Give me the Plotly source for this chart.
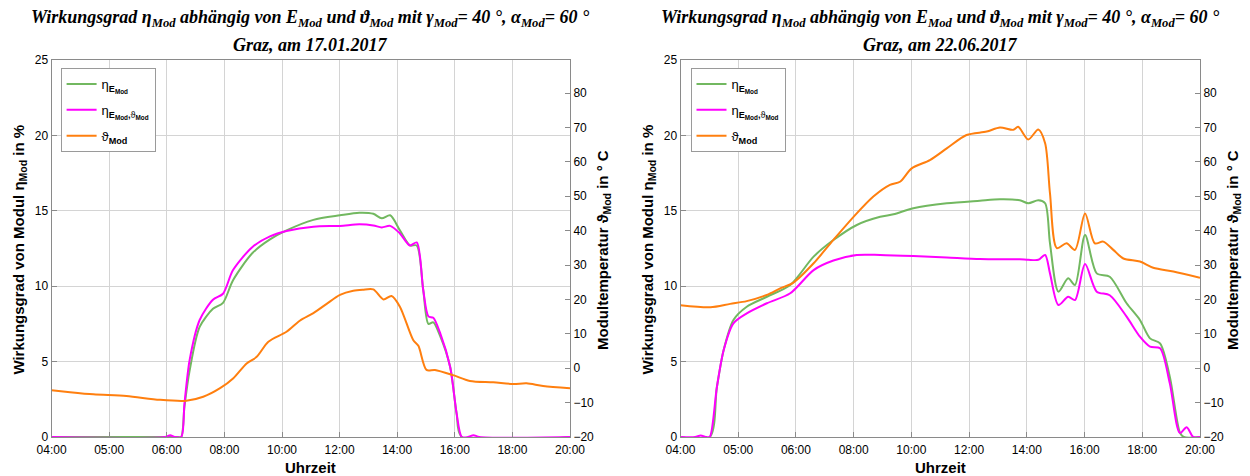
import plotly.graph_objects as go
import numpy as np

# ---------------- data (hours of day) ----------------
# 17.01.2017
t_jan_T = [4.0, 4.5, 5.29, 6.31, 7.34, 8.16, 8.68, 9.2, 9.61, 10.02, 10.33, 10.69, 11.25, 11.66, 12.08,
           12.49, 12.9, 13.31, 13.6, 13.93, 14.24, 14.49, 14.75, 15.16, 15.32, 15.57, 15.83, 16.39,
           16.91, 17.63, 18.25, 18.66, 19.17, 20.0]
T_jan = [-6.4, -6.9, -7.6, -8.1, -9.2, -9.45, -8.3, -5.8, -2.9, 1.4, 3.3, 7.7, 10.6, 13.8, 16.0,
         18.7, 21.3, 22.5, 22.8, 22.9, 20.0, 21.0, 17.9, 8.2, 6.5, -0.5, -0.5, -2.0,
         -3.7, -4.1, -4.6, -4.4, -5.2, -5.8]

t_jan_E = [4.0, 7.9, 8.0, 8.1, 8.26, 8.57, 8.98, 9.29, 9.6, 10.2, 10.74, 11.25, 12.08, 12.9, 13.5,
           13.93, 14.19, 14.45, 14.75, 15.06, 15.27, 15.47, 15.63, 15.78, 15.99, 16.3, 16.5, 16.66, 20.0]
eta_E_jan = [0, 0, 0, 2.0, 4.4, 7.3, 8.5, 8.9, 10.4, 12.2, 13.1, 13.7, 14.4, 14.7, 14.87,
             14.8, 14.5, 14.7, 13.7, 12.7, 12.7, 9.75, 7.5, 7.6, 6.7, 4.66, 1.57, 0, 0]

t_jan_M = [4.0, 7.5, 7.66, 7.8, 8.0, 8.1, 8.26, 8.57, 8.98, 9.29, 9.6, 10.2, 10.74, 11.25, 12.08,
           12.9, 13.5, 13.93, 14.19, 14.45, 14.75, 15.06, 15.27, 15.47, 15.63, 15.78, 15.99, 16.3,
           16.5, 16.66, 16.85, 17.02, 17.2, 20.0]
eta_M_jan = [0, 0, 0.12, 0, 0, 2.2, 5.1, 7.76, 9.1, 9.5, 11.07, 12.6, 13.3, 13.66, 13.95,
             14.0, 14.1, 14.03, 13.9, 14.0, 13.5, 12.7, 12.9, 9.75, 8.0, 7.9, 6.9, 4.66,
             1.57, 0, 0, 0.12, 0, 0]

# 22.06.2017
t_jun_T = [4.0, 4.92, 5.53, 6.04, 6.66, 7.07, 7.48, 8.1, 8.71, 9.33, 9.94, 10.45, 10.76, 11.12,
           11.68, 12.2, 12.81, 13.43, 13.84, 14.25, 14.4, 14.71, 15.02, 15.23, 15.38, 15.59,
           15.89, 16.15, 16.46, 16.76, 17.02, 17.33, 17.64, 18.15, 18.56, 19.18, 20.0]
T_jun = [18.3, 17.7, 18.7, 19.5, 21.3, 23.2, 24.9, 30.5, 37.3, 44.0, 49.9, 53.3, 54.2, 58.1,
         60.5, 63.9, 67.8, 68.8, 70.0, 69.3, 70.2, 66.5, 69.4, 65.4, 50.8, 34.9,
         36.3, 34.4, 45.0, 36.3, 36.8, 34.4, 31.9, 31.0, 29.2, 28.1, 26.3]

t_jun_E = [4.0, 4.9, 5.12, 5.33, 5.63, 6.04, 6.66, 7.38, 8.1, 8.71, 9.43, 10.15, 10.56, 11.17,
           12.2, 13.22, 13.84, 14.45, 14.71, 15.02, 15.23, 15.38, 15.64, 15.94, 16.15, 16.46,
           16.82, 17.22, 17.74, 18.15, 18.46, 18.77, 19.07, 19.38, 19.5, 20.0]
eta_E_jun = [0, 0, 3.3, 5.77, 7.76, 8.64, 9.3, 10.08, 11.96, 13.06, 14.06, 14.6, 14.77, 15.17,
             15.5, 15.67, 15.76, 15.7, 15.5, 15.7, 15.5, 12.84, 9.64, 10.52, 10.08, 13.4,
             10.85, 10.63, 8.87, 7.76, 6.54, 6.21, 4.0, 0.3, 0, 0]

t_jun_M = [4.0, 4.45, 4.62, 4.8, 4.9, 5.12, 5.33, 5.63, 6.04, 6.66, 7.38, 8.1, 8.71, 9.43, 10.15,
           11.17, 12.2, 13.22, 13.84, 14.45, 14.71, 15.02, 15.23, 15.38, 15.64, 15.94, 16.15,
           16.46, 16.82, 17.22, 17.74, 18.15, 18.46, 18.77, 19.07, 19.38, 19.59, 19.79, 20.0]
eta_M_jun = [0, 0, 0.1, 0, 0, 3.3, 5.77, 7.54, 8.2, 8.87, 9.53, 11.07, 11.7, 12.07, 12.07,
             12.0, 11.9, 11.8, 11.78, 11.78, 11.75, 11.75, 12.07, 10.85, 8.75, 9.3, 9.08,
             11.47, 9.64, 9.4, 7.98, 6.65, 5.99, 5.88, 3.56, 0.27, 0.65, 0, 0]

x_ticktext = ["04:00", "05:00", "06:00", "08:00", "10:00", "12:00", "14:00", "16:00", "18:00", "20:00"]
x_tickvals = list(np.linspace(4, 20, len(x_ticktext)))
left_ticks = [0, 5, 10, 15, 20, 25]
right_ticks = [-20, -10, 0, 10, 20, 30, 40, 50, 60, 70, 80]
dates = ["17.01.2017", "22.06.2017"]

names = ["η<sub><b>E<sub>Mod</sub></b></sub>",
         "η<sub><b>E<sub>Mod</sub>,</b>ϑ<sub><b>Mod</b></sub></sub>",
         "ϑ<sub><b>Mod</b></sub>"]

GREEN = "#72b860"
MAGENTA = "#ff00ff"
ORANGE = "#ff7f0f"

W, H = 1250, 476
TOP, BOT = 60, 437
panels = [(51.6, 570.0), (680.5, 1200.0)]
ydom = [1 - BOT / H, 1 - TOP / H]

fig = go.Figure()

datasets = [
    (t_jan_E, eta_E_jan, t_jan_M, eta_M_jan, t_jan_T, T_jan),
    (t_jun_E, eta_E_jun, t_jun_M, eta_M_jun, t_jun_T, T_jun),
]

tick_font = dict(family="Liberation Sans", size=12, color="black")
AXC = "#8a8a8a"
GRIDC = "#d4d4d4"

for i, (tE, yE, tM, yM, tT, yT) in enumerate(datasets):
    xa = "x" if i == 0 else "x2"
    yl = "y" if i == 0 else "y3"
    yr = "y2" if i == 0 else "y4"
    leg = "legend" if i == 0 else "legend2"
    fig.add_trace(go.Scatter(x=tE, y=yE, mode="lines", name=names[0], xaxis=xa, yaxis=yl,
                             line=dict(color=GREEN, width=2, shape="spline", smoothing=0.8),
                             legend=leg, legendgroup="g%d_0" % i))
    fig.add_trace(go.Scatter(x=tM, y=yM, mode="lines", name=names[1], xaxis=xa, yaxis=yl,
                             line=dict(color=MAGENTA, width=2, shape="spline", smoothing=0.8),
                             legend=leg, legendgroup="g%d_1" % i))
    fig.add_trace(go.Scatter(x=tT, y=yT, mode="lines", name=names[2], xaxis=xa, yaxis=yr,
                             line=dict(color=ORANGE, width=2, shape="spline", smoothing=0.8),
                             legend=leg, legendgroup="g%d_2" % i))

def xaxis_cfg(dom, anchor):
    return dict(domain=dom, anchor=anchor, range=[4, 20], tickvals=x_tickvals, ticktext=x_ticktext,
                showgrid=True, gridcolor=GRIDC, gridwidth=1, showline=True, linecolor=AXC,
                mirror=True, ticks="inside", ticklen=5, tickcolor=AXC, ticklabelstandoff=2,
                tickfont=tick_font, zeroline=False, automargin=False, fixedrange=True)

def yleft_cfg(anchor):
    return dict(domain=ydom, anchor=anchor, range=[0, 25], tickvals=left_ticks,
                showgrid=True, gridcolor=GRIDC, gridwidth=1, showline=True, linecolor=AXC,
                ticks="inside", ticklen=5, tickcolor=AXC, tickfont=tick_font, zeroline=False,
                automargin=False)

def yright_cfg(anchor, over):
    return dict(anchor=anchor, overlaying=over, side="right", range=[-20, 89.6], tickvals=right_ticks,
                showgrid=False, showline=True, linecolor=AXC, ticks="inside", ticklen=5,
                tickcolor=AXC, tickfont=tick_font, zeroline=False, automargin=False)

leg_font = dict(family="Liberation Sans", size=13, color="black")
fig.update_layout(
    width=W, height=H, margin=dict(l=0, r=0, t=0, b=0),
    paper_bgcolor="white", plot_bgcolor="white",
    xaxis=xaxis_cfg([panels[0][0] / W, panels[0][1] / W], "y"),
    yaxis=yleft_cfg("x"),
    yaxis2=yright_cfg("x", "y"),
    xaxis2=xaxis_cfg([panels[1][0] / W, panels[1][1] / W], "y3"),
    yaxis3=yleft_cfg("x2"),
    yaxis4=yright_cfg("x2", "y3"),
    legend=dict(x=(panels[0][0] + 9) / W, y=1 - 68 / H, xanchor="left", yanchor="top",
                bgcolor="white", bordercolor="#9a9a9a", borderwidth=1, tracegroupgap=6,
                font=leg_font),
    legend2=dict(x=(panels[1][0] + 10) / W, y=1 - 68 / H, xanchor="left", yanchor="top",
                 bgcolor="white", bordercolor="#9a9a9a", borderwidth=1, tracegroupgap=6,
                 font=leg_font),
    showlegend=True,
)

title_font = dict(family="Liberation Serif", size=18, color="black")
lab_font = dict(family="Liberation Sans", size=15, color="black")
for i, (x0, x1) in enumerate(panels):
    cx = (x0 + x1) / 2 / W
    fig.add_annotation(x=cx, y=1 - 19 / H, xref="paper", yref="paper", showarrow=False,
                       xanchor="center", yanchor="middle", font=title_font,
                       text="<b><i>Wirkungsgrad η<sub>Mod</sub> abhängig von E<sub>Mod</sub> und ϑ<sub>Mod</sub>"
                            " mit γ<sub>Mod</sub>= 40 °, α<sub>Mod</sub>= 60 °</i></b>")
    fig.add_annotation(x=cx, y=1 - 45 / H, xref="paper", yref="paper", showarrow=False,
                       xanchor="center", yanchor="middle", font=title_font,
                       text="<b><i>Graz, am %s</i></b>" % dates[i])
    fig.add_annotation(x=cx, y=1 - 467 / H, xref="paper", yref="paper", showarrow=False,
                       xanchor="center", yanchor="middle", font=lab_font, text="<b>Uhrzeit</b>")
    fig.add_annotation(x=(x0 - 33) / W, y=1 - 250 / H, xref="paper", yref="paper", showarrow=False,
                       xanchor="center", yanchor="middle", textangle=-90, font=lab_font,
                       text="<b>Wirkungsgrad von Modul η<sub>Mod</sub> in %</b>")
    fig.add_annotation(x=(x1 + 33) / W, y=1 - 250 / H, xref="paper", yref="paper", showarrow=False,
                       xanchor="center", yanchor="middle", textangle=-90, font=lab_font,
                       text="<b>Modultemperatur ϑ<sub>Mod</sub> in ° C</b>")

fig.write_html("out.html")
